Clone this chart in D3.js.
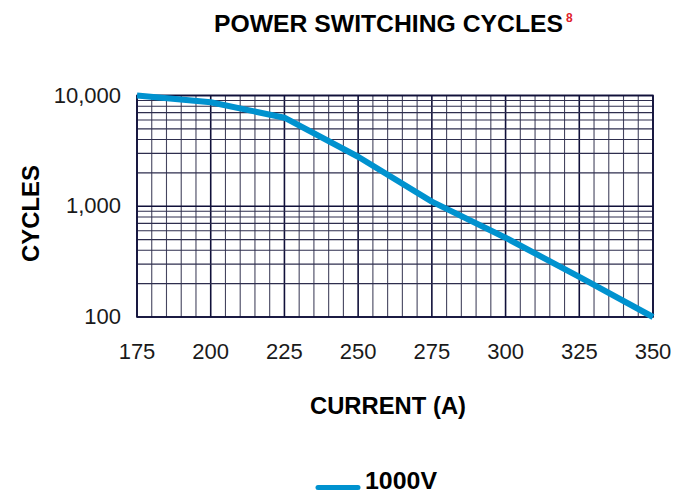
<!DOCTYPE html>
<html><head><meta charset="utf-8">
<script src="https://cdn.jsdelivr.net/npm/d3@7"></script>
<style>
body{margin:0;background:#fff;}
text{font-family:"Liberation Sans",Arial,sans-serif;}
</style></head>
<body><svg id="c" width="689" height="494"></svg>
<script>
const currents = [175, 200, 225, 250, 275, 300, 325, 350];
const cycles1000V = [10000, 8700, 6300, 2800, 1100, 520, 230, 100];
const xTicks = [175, 200, 225, 250, 275, 300, 325, 350];
const yTicks = [100, 1000, 10000];
const yTickLabels = ["100", "1,000", "10,000"];
const seriesName = "1000V";

const svg = d3.select("#c");
const L = 137, R = 653, T = 95.5, B = 317;
const x = d3.scaleLinear().domain([175, 350]).range([L, R]);
const y = d3.scaleLog().domain([100, 10000]).range([B, T]);

// grid
const g = svg.append("g");
const vx = d3.range(175, 351, 5);
g.selectAll("line.v").data(vx).join("line")
  .attr("x1", d => x(d)).attr("x2", d => x(d)).attr("y1", T).attr("y2", B)
  .attr("stroke", d => d % 25 === 0 ? "#10103a" : "#45455f")
  .attr("stroke-width", d => d % 25 === 0 ? 1.6 : 1.1);
const hy = [];
[100, 1000].forEach(dec => { for (let k = 1; k <= 10; k++) hy.push(dec * k); });
const hyU = Array.from(new Set(hy));
g.selectAll("line.h").data(hyU).join("line")
  .attr("x1", L).attr("x2", R).attr("y1", d => y(d)).attr("y2", d => y(d))
  .attr("stroke", d => yTicks.includes(d) ? "#10103a" : "#2e2e4e")
  .attr("stroke-width", d => yTicks.includes(d) ? 1.6 : 1.1);
g.append("rect").attr("x", L).attr("y", T).attr("width", R - L).attr("height", B - T)
  .attr("fill", "none").attr("stroke", "#10103a").attr("stroke-width", 1.6);

// axes labels
svg.append("g").selectAll("text").data(xTicks).join("text")
  .attr("x", d => x(d)).attr("y", 359).attr("text-anchor", "middle")
  .attr("font-size", 22).attr("fill", "#1a1a1a").text(d => d);
svg.append("g").selectAll("text").data(yTicks).join("text")
  .attr("x", 121).attr("y", d => y(d) + 7).attr("text-anchor", "end")
  .attr("font-size", 22).attr("fill", "#1a1a1a").text((d, i) => yTickLabels[i]);

// line
const line = d3.line().x((d, i) => x(currents[i])).y(d => y(d));
svg.append("path").datum(cycles1000V).attr("d", line)
  .attr("fill", "none").attr("stroke", "#0092cf").attr("stroke-width", 6)
  .attr("stroke-linejoin", "round");

// titles
svg.append("text").attr("x", 214).attr("y", 32)
  .attr("font-size", 24).attr("font-weight", "bold").attr("fill", "#000")
  .attr("textLength", 349).attr("lengthAdjust", "spacingAndGlyphs")
  .text("POWER SWITCHING CYCLES");
svg.append("text").attr("x", 566).attr("y", 22)
  .attr("font-size", 12).attr("font-weight", "bold").attr("fill", "#e0202a").text("8");

svg.append("text").attr("x", 310).attr("y", 414)
  .attr("font-size", 24).attr("font-weight", "bold").attr("fill", "#000")
  .attr("textLength", 156).attr("lengthAdjust", "spacingAndGlyphs").text("CURRENT (A)");
svg.append("text").attr("transform", "translate(39,262) rotate(-90)")
  .attr("font-size", 24).attr("font-weight", "bold").attr("fill", "#000")
  .attr("textLength", 97).attr("lengthAdjust", "spacingAndGlyphs").text("CYCLES");

// legend
svg.append("line").attr("x1", 318).attr("x2", 358).attr("y1", 487.5).attr("y2", 487.5)
  .attr("stroke", "#0092cf").attr("stroke-width", 5).attr("stroke-linecap", "round");
svg.append("text").attr("x", 365).attr("y", 489).attr("font-size", 24).attr("font-weight", "bold")
  .attr("fill", "#000").attr("textLength", 72).attr("lengthAdjust", "spacingAndGlyphs").text(seriesName);
</script></body></html>
